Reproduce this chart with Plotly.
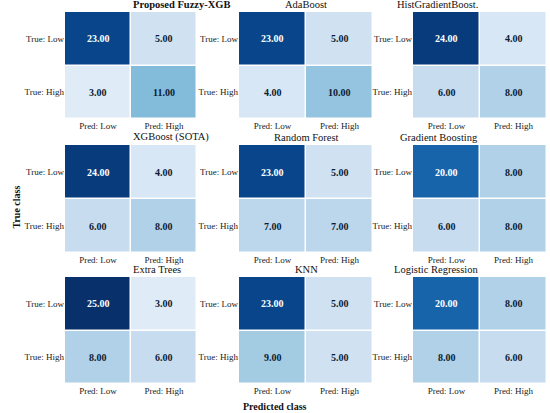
import plotly.graph_objects as go

# confusion matrices: [[TL-PL, TL-PH], [TH-PL, TH-PH]]
models = ["Proposed Fuzzy-XGB", "AdaBoost", "HistGradientBoost.",
          "XGBoost (SOTA)", "Random Forest", "Gradient Boosting",
          "Extra Trees", "KNN", "Logistic Regression"]
cm_fuzzy = [[23, 5], [3, 11]]
cm_ada = [[23, 5], [4, 10]]
cm_hgb = [[24, 4], [6, 8]]
cm_xgb = [[24, 4], [6, 8]]
cm_rf = [[23, 5], [7, 7]]
cm_gb = [[20, 8], [6, 8]]
cm_et = [[25, 3], [8, 6]]
cm_knn = [[23, 5], [9, 5]]
cm_lr = [[20, 8], [8, 6]]
matrices = [cm_fuzzy, cm_ada, cm_hgb, cm_xgb, cm_rf, cm_gb, cm_et, cm_knn, cm_lr]

pred_labels = ["Pred: Low", "Pred: High"]
true_labels = ["True: Low", "True: High"]

W, H = 550, 413
col_px = [(65, 197), (239, 373), (413, 547)]
row_px = [(12, 119), (145, 253), (277, 384)]

FONT = "Liberation Serif, Times New Roman, serif"

fig = go.Figure()
annotations = []

for i, (name, cm) in enumerate(zip(models, matrices)):
    r, c = divmod(i, 3)
    k = "" if i == 0 else str(i + 1)
    xd = [col_px[c][0] / W, col_px[c][1] / W]
    yd = [1 - row_px[r][1] / H, 1 - row_px[r][0] / H]

    fig.add_trace(go.Heatmap(
        z=cm, x=pred_labels, y=true_labels,
        colorscale="Blues", zmin=0, zmax=25, showscale=False,
        xgap=1.5, ygap=1.5, hoverinfo="skip",
        xaxis="x" + k, yaxis="y" + k))

    fig.layout["xaxis" + k] = dict(domain=xd, anchor="y" + k, showgrid=False,
                                   zeroline=False, ticks="", ticklen=0,
                                   tickfont=dict(size=9, color="#222"))
    fig.layout["yaxis" + k] = dict(domain=yd, anchor="x" + k, showgrid=False,
                                   zeroline=False, autorange="reversed", ticks="",
                                   tickfont=dict(size=9, color="#222"))

    # cell values
    for a, tl in enumerate(true_labels):
        for b, pl in enumerate(pred_labels):
            v = cm[a][b]
            annotations.append(dict(
                x=pl, y=tl, xref="x" + k, yref="y" + k, text=f"<b>{v:.2f}</b>",
                showarrow=False,
                font=dict(size=10, family=FONT,
                          color="white" if v >= 15 else "#0b1b33")))

    title = f"<b>{name}</b>" if i == 0 else name
    annotations.append(dict(
        x=(xd[0] + xd[1]) / 2, y=yd[1], xref="paper", yref="paper",
        text=title, showarrow=False, yanchor="bottom", yshift=0,
        font=dict(size=10.5, family=FONT, color="#111")))

annotations.append(dict(x=8 / W, y=1 - 207 / H, xref="paper", yref="paper",
                        text="<b>True class</b>", textangle=-90, showarrow=False,
                        font=dict(size=10, family=FONT, color="#111")))
annotations.append(dict(x=275 / W, y=1 - 406 / H, xref="paper", yref="paper",
                        text="<b>Predicted class</b>", showarrow=False,
                        yanchor="middle",
                        font=dict(size=10, family=FONT, color="#111")))

fig.update_layout(
    width=W, height=H,
    margin=dict(l=0, r=0, t=0, b=0),
    paper_bgcolor="white", plot_bgcolor="white",
    font=dict(family=FONT, size=9, color="#222"),
    annotations=annotations,
    showlegend=False)

# the page body has a default 8px margin; drop it so the figure fills the window
fig.write_html("out.html", config={"displayModeBar": False},
               post_script="document.body.style.margin='0';")
